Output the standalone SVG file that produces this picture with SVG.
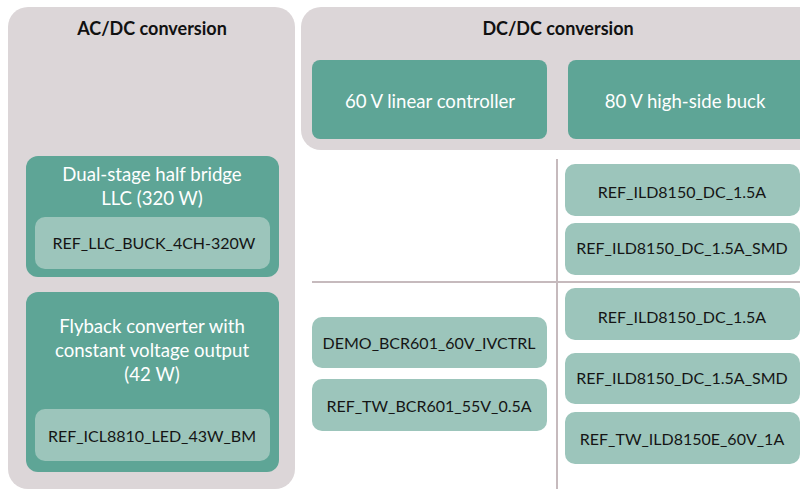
<svg xmlns="http://www.w3.org/2000/svg" width="800" height="489" viewBox="0 0 800 489">
<style>
.cont{fill:#dcd6d8}
.dark{fill:#5ea596}
.light{fill:#9cc5bb}
.title{font-family:Lato,"Noto Sans",sans-serif;font-weight:bold;font-size:18px;fill:#111;text-anchor:middle}
.wt{font-family:Lato,"Noto Sans",sans-serif;font-size:18.6px;fill:#ffffff;text-anchor:middle}
.bt{font-family:Lato,"Noto Sans",sans-serif;font-size:16px;fill:#151515;text-anchor:middle}
.sep{stroke:#c6babd;stroke-width:2;fill:none}
</style>
<rect width="800" height="489" fill="#ffffff"/>
<g id="acdc">
<rect class="cont" x="8" y="7" width="287" height="482" rx="20"/>
<text class="title" x="152" y="35">AC/DC conversion</text>
</g>
<g id="dcdc">
<rect class="cont" x="301" y="7" width="520" height="143" rx="20"/>
<text class="title" x="558" y="35">DC/DC conversion</text>
</g>
<g id="linear">
<rect class="dark" x="312" y="60" width="235" height="79" rx="8"/>
<text class="wt" x="430" y="108">60 V linear controller</text>
</g>
<g id="buck">
<rect class="dark" x="568" y="60" width="240" height="79" rx="8"/>
<text class="wt" x="685" y="108">80 V high-side buck</text>
</g>
<g id="llc">
<rect class="dark" x="26" y="156" width="253" height="121" rx="12"/>
<text class="wt" x="152" y="181">Dual-stage half bridge</text>
<text class="wt" x="152" y="205">LLC (320 W)</text>
</g>
<g id="llc-ref">
<rect class="light" x="35" y="217" width="235" height="52" rx="10"/>
<text class="bt" x="154" y="249">REF_LLC_BUCK_4CH-320W</text>
</g>
<g id="flyback">
<rect class="dark" x="26" y="292" width="253" height="180" rx="12"/>
<text class="wt" x="152" y="333">Flyback converter with</text>
<text class="wt" x="152" y="357">constant voltage output</text>
<text class="wt" x="152" y="381">(42 W)</text>
</g>
<g id="flyback-ref">
<rect class="light" x="35" y="409" width="235" height="52" rx="10"/>
<text class="bt" x="152" y="442">REF_ICL8810_LED_43W_BM</text>
</g>
<g id="connectors">
<line class="sep" x1="557" y1="159" x2="557" y2="489"/>
<line class="sep" x1="312" y1="282" x2="800" y2="282"/>
</g>
<g id="r1">
<rect class="light" x="565" y="164" width="235" height="52" rx="10"/>
<text class="bt" x="682" y="198">REF_ILD8150_DC_1.5A</text>
</g>
<g id="r2">
<rect class="light" x="565" y="223" width="235" height="52" rx="10"/>
<text class="bt" x="682" y="254">REF_ILD8150_DC_1.5A_SMD</text>
</g>
<g id="r3">
<rect class="light" x="565" y="288" width="235" height="52" rx="10"/>
<text class="bt" x="682" y="323">REF_ILD8150_DC_1.5A</text>
</g>
<g id="r4">
<rect class="light" x="565" y="353" width="235" height="51" rx="10"/>
<text class="bt" x="682" y="384">REF_ILD8150_DC_1.5A_SMD</text>
</g>
<g id="r5">
<rect class="light" x="565" y="412" width="235" height="52" rx="10"/>
<text class="bt" x="682" y="445">REF_TW_ILD8150E_60V_1A</text>
</g>
<g id="l1">
<rect class="light" x="312" y="317" width="235" height="51" rx="10"/>
<text class="bt" x="429" y="349">DEMO_BCR601_60V_IVCTRL</text>
</g>
<g id="l2">
<rect class="light" x="312" y="379" width="235" height="52" rx="10"/>
<text class="bt" x="429" y="412">REF_TW_BCR601_55V_0.5A</text>
</g>
</svg>
